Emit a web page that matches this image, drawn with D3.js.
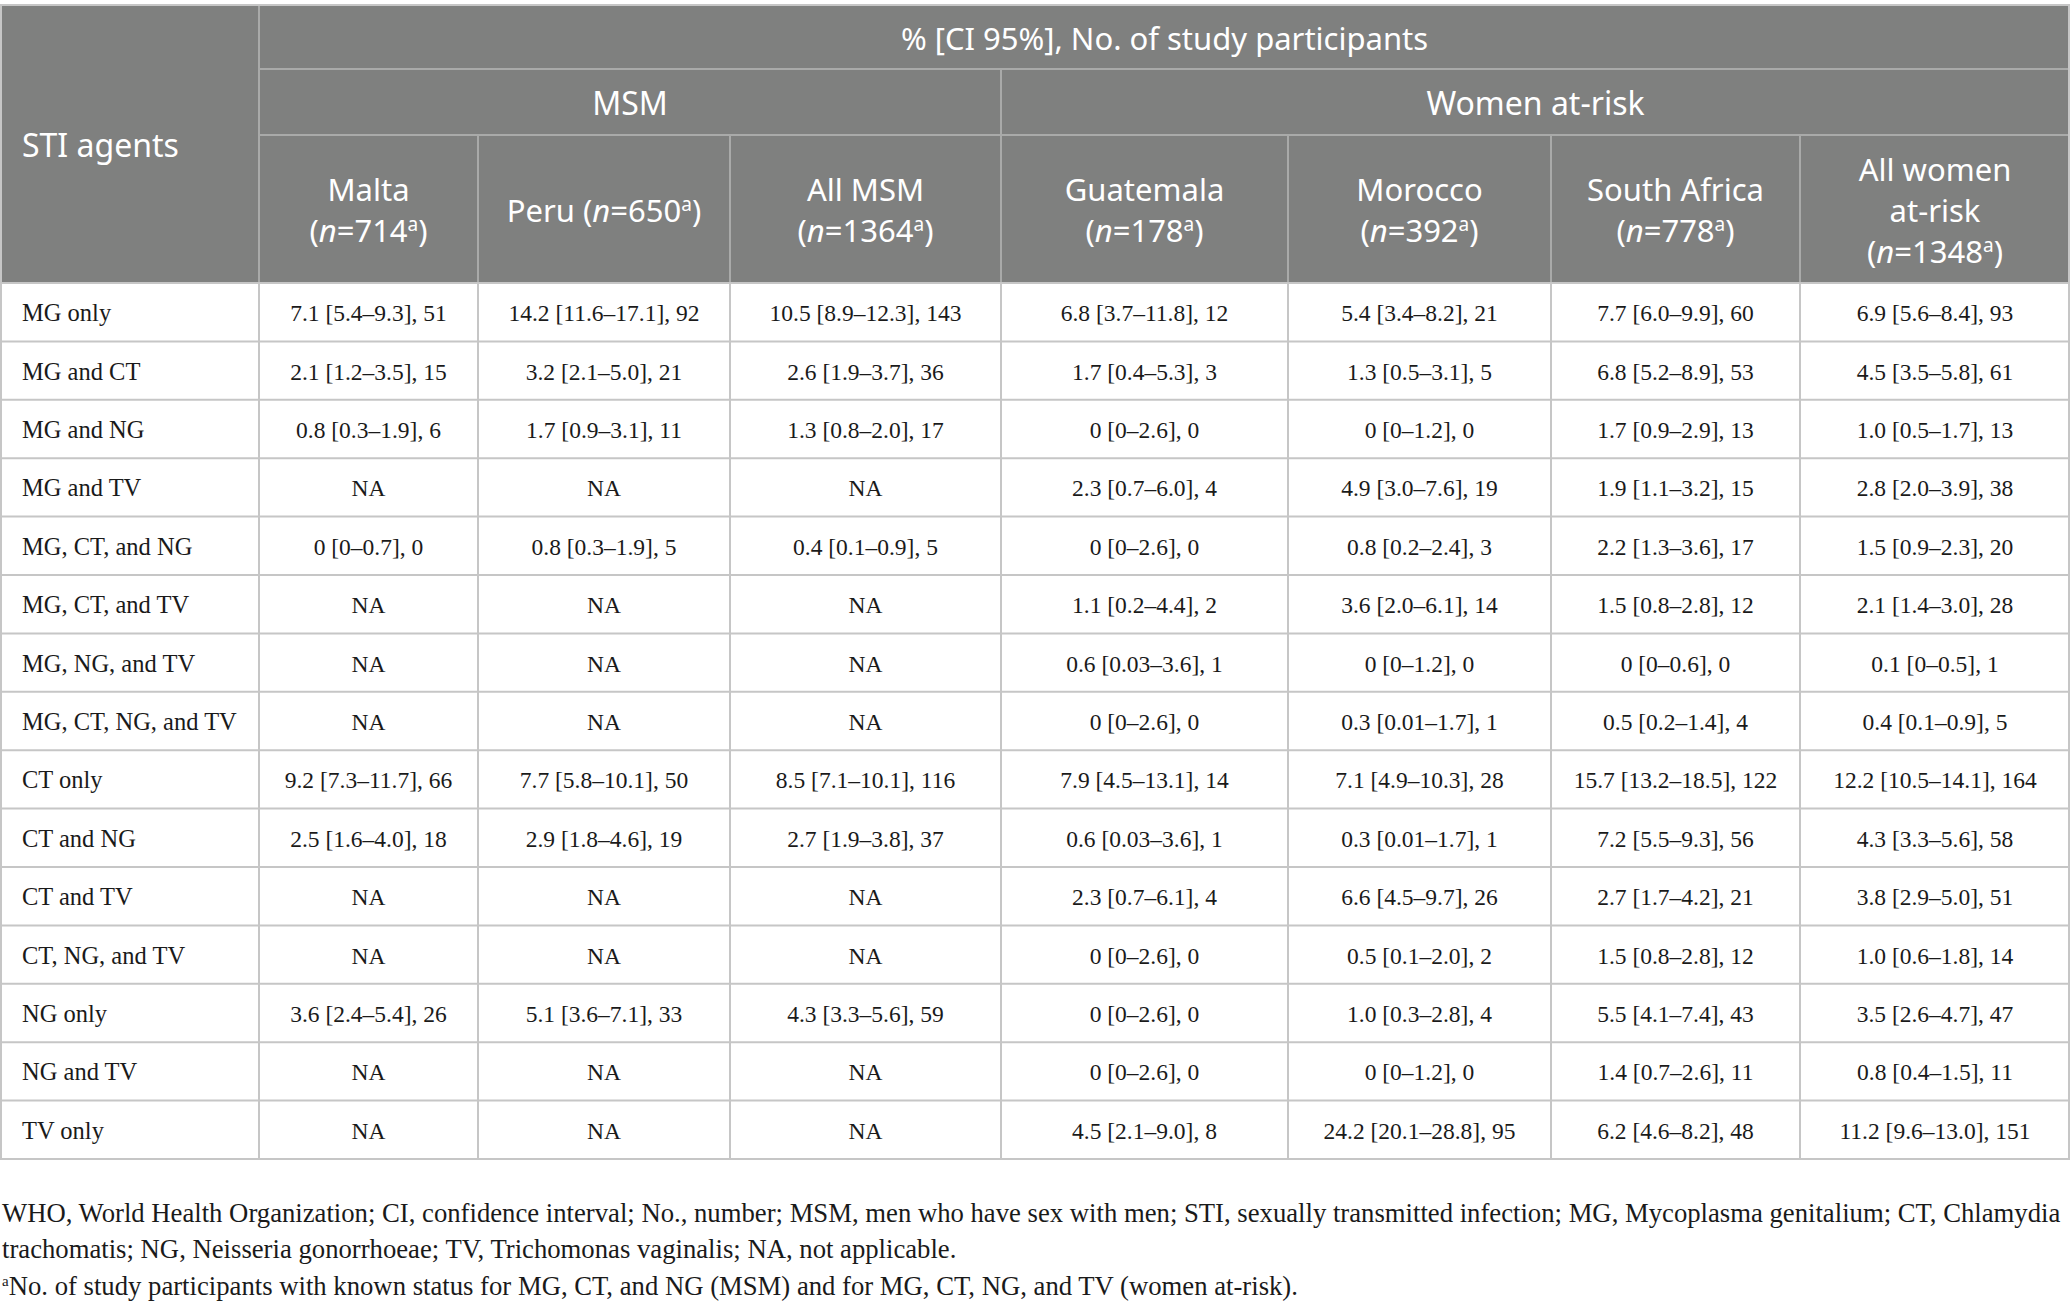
<!DOCTYPE html>
<html>
<head>
<meta charset="utf-8">
<script src="https://cdn.jsdelivr.net/npm/d3@7"></script>
<style>
  body { margin: 0; background: #fff; }
  svg { display: block; }
</style>
</head>
<body>
<div id="table"></div>
<script>
const agents = ["MG only", "MG and CT", "MG and NG", "MG and TV", "MG, CT, and NG",
  "MG, CT, and TV", "MG, NG, and TV", "MG, CT, NG, and TV", "CT only", "CT and NG",
  "CT and TV", "CT, NG, and TV", "NG only", "NG and TV", "TV only"];

const groups = ["MSM", "Women at-risk"];
const countries = ["Malta", "Peru", "All MSM", "Guatemala", "Morocco", "South Africa", "All women at-risk"];
const countryGroup = ["MSM", "MSM", "MSM", "Women at-risk", "Women at-risk", "Women at-risk", "Women at-risk"];
const sampleSizes = [714, 650, 1364, 178, 392, 778, 1348];

const malta = ["7.1 [5.4–9.3], 51", "2.1 [1.2–3.5], 15", "0.8 [0.3–1.9], 6", "NA", "0 [0–0.7], 0",
  "NA", "NA", "NA", "9.2 [7.3–11.7], 66", "2.5 [1.6–4.0], 18", "NA", "NA", "3.6 [2.4–5.4], 26", "NA", "NA"];
const peru = ["14.2 [11.6–17.1], 92", "3.2 [2.1–5.0], 21", "1.7 [0.9–3.1], 11", "NA", "0.8 [0.3–1.9], 5",
  "NA", "NA", "NA", "7.7 [5.8–10.1], 50", "2.9 [1.8–4.6], 19", "NA", "NA", "5.1 [3.6–7.1], 33", "NA", "NA"];
const allMsm = ["10.5 [8.9–12.3], 143", "2.6 [1.9–3.7], 36", "1.3 [0.8–2.0], 17", "NA", "0.4 [0.1–0.9], 5",
  "NA", "NA", "NA", "8.5 [7.1–10.1], 116", "2.7 [1.9–3.8], 37", "NA", "NA", "4.3 [3.3–5.6], 59", "NA", "NA"];
const guatemala = ["6.8 [3.7–11.8], 12", "1.7 [0.4–5.3], 3", "0 [0–2.6], 0", "2.3 [0.7–6.0], 4", "0 [0–2.6], 0",
  "1.1 [0.2–4.4], 2", "0.6 [0.03–3.6], 1", "0 [0–2.6], 0", "7.9 [4.5–13.1], 14", "0.6 [0.03–3.6], 1",
  "2.3 [0.7–6.1], 4", "0 [0–2.6], 0", "0 [0–2.6], 0", "0 [0–2.6], 0", "4.5 [2.1–9.0], 8"];
const morocco = ["5.4 [3.4–8.2], 21", "1.3 [0.5–3.1], 5", "0 [0–1.2], 0", "4.9 [3.0–7.6], 19", "0.8 [0.2–2.4], 3",
  "3.6 [2.0–6.1], 14", "0 [0–1.2], 0", "0.3 [0.01–1.7], 1", "7.1 [4.9–10.3], 28", "0.3 [0.01–1.7], 1",
  "6.6 [4.5–9.7], 26", "0.5 [0.1–2.0], 2", "1.0 [0.3–2.8], 4", "0 [0–1.2], 0", "24.2 [20.1–28.8], 95"];
const southAfrica = ["7.7 [6.0–9.9], 60", "6.8 [5.2–8.9], 53", "1.7 [0.9–2.9], 13", "1.9 [1.1–3.2], 15",
  "2.2 [1.3–3.6], 17", "1.5 [0.8–2.8], 12", "0 [0–0.6], 0", "0.5 [0.2–1.4], 4", "15.7 [13.2–18.5], 122",
  "7.2 [5.5–9.3], 56", "2.7 [1.7–4.2], 21", "1.5 [0.8–2.8], 12", "5.5 [4.1–7.4], 43", "1.4 [0.7–2.6], 11",
  "6.2 [4.6–8.2], 48"];
const allWomen = ["6.9 [5.6–8.4], 93", "4.5 [3.5–5.8], 61", "1.0 [0.5–1.7], 13", "2.8 [2.0–3.9], 38",
  "1.5 [0.9–2.3], 20", "2.1 [1.4–3.0], 28", "0.1 [0–0.5], 1", "0.4 [0.1–0.9], 5", "12.2 [10.5–14.1], 164",
  "4.3 [3.3–5.6], 58", "3.8 [2.9–5.0], 51", "1.0 [0.6–1.8], 14", "3.5 [2.6–4.7], 47", "0.8 [0.4–1.5], 11",
  "11.2 [9.6–13.0], 151"];

const cells = [malta, peru, allMsm, guatemala, morocco, southAfrica, allWomen];

const topHeader = "% [CI 95%], No. of study participants";
const firstHeader = "STI agents";
const footnotes = [
  "WHO, World Health Organization; CI, confidence interval; No., number; MSM, men who have sex with men; STI, sexually transmitted infection; MG, Mycoplasma genitalium; CT, Chlamydia",
  "trachomatis; NG, Neisseria gonorrhoeae; TV, Trichomonas vaginalis; NA, not applicable."
];
const footnoteA = "No. of study participants with known status for MG, CT, and NG (MSM) and for MG, CT, NG, and TV (women at-risk).";

// ---- layout ----
const width = 2070, height = 1311;
const colWidths = [259, 219, 252, 271, 287, 263, 249, 270];
const edges = [0].concat(Array.from(d3.cumsum(colWidths)));
const tableTop = 5, h1 = 69, h2 = 135, headBottom = 283, tableBottom = 1159;

const headBg = "#7f807f", headLine = "#a9aaa9", bodyLine = "#c6c6c6";
const sans = "'Noto Sans', 'Open Sans', sans-serif";
const serif = "'Liberation Serif', 'DejaVu Serif', serif";

const xCol = i => edges[i + 1];           // left edge of data column i
const wCol = i => colWidths[i + 1];

const yScale = d3.scaleBand()
  .domain(agents)
  .range([headBottom, tableBottom]);

const svg = d3.select("#table")
  .append("svg")
  .attr("width", width)
  .attr("height", height);

svg.append("rect").attr("width", width).attr("height", height).attr("fill", "#fff");

// header background
svg.append("rect")
  .attr("x", 0).attr("y", tableTop)
  .attr("width", width).attr("height", headBottom - tableTop)
  .attr("fill", headBg);

// header lines
const gLines = svg.append("g").attr("stroke-width", 2).attr("fill", "none");

gLines.append("line").attr("x1", edges[1]).attr("x2", width).attr("y1", h1).attr("y2", h1).attr("stroke", headLine);
gLines.append("line").attr("x1", edges[1]).attr("x2", width).attr("y1", h2).attr("y2", h2).attr("stroke", headLine);
gLines.append("line").attr("x1", edges[1]).attr("x2", edges[1]).attr("y1", tableTop).attr("y2", headBottom).attr("stroke", headLine);

const groupStart = groups.map(g => countryGroup.indexOf(g));
gLines.append("line")
  .attr("x1", xCol(groupStart[1])).attr("x2", xCol(groupStart[1]))
  .attr("y1", h1).attr("y2", headBottom).attr("stroke", headLine);

gLines.selectAll(".sub-v")
  .data(countries.slice(1).map((c, i) => i + 1).filter(i => !groupStart.includes(i)))
  .enter()
  .append("line")
  .attr("x1", i => xCol(i)).attr("x2", i => xCol(i))
  .attr("y1", h2).attr("y2", headBottom)
  .attr("stroke", headLine);

// body lines
gLines.selectAll(".row-h")
  .data(agents)
  .enter()
  .append("line")
  .attr("x1", 0).attr("x2", width)
  .attr("y1", d => yScale(d) + yScale.bandwidth())
  .attr("y2", d => yScale(d) + yScale.bandwidth())
  .attr("stroke", bodyLine);

gLines.selectAll(".col-v")
  .data(edges)
  .enter()
  .append("line")
  .attr("x1", (d, i) => i == 0 ? 1 : (i == edges.length - 1 ? width - 1 : d))
  .attr("x2", (d, i) => i == 0 ? 1 : (i == edges.length - 1 ? width - 1 : d))
  .attr("y1", (d, i) => (i == 0 || i == edges.length - 1) ? tableTop : headBottom)
  .attr("y2", tableBottom)
  .attr("stroke", bodyLine);

gLines.append("line").attr("x1", 0).attr("x2", width).attr("y1", tableTop).attr("y2", tableTop).attr("stroke", bodyLine);
gLines.append("line").attr("x1", 0).attr("x2", width).attr("y1", headBottom).attr("y2", headBottom).attr("stroke", bodyLine);

// header text
const gHead = svg.append("g")
  .attr("font-family", sans)
  .attr("font-size", 31)
  .attr("fill", "#fff");

gHead.append("text")
  .attr("x", 22).attr("y", (tableTop + headBottom) / 2 + 12.5)
  .attr("font-size", 32)
  .text(firstHeader);

gHead.append("text")
  .attr("x", (edges[1] + width) / 2).attr("y", (tableTop + h1) / 2 + 12.5)
  .attr("text-anchor", "middle")
  .text(topHeader);

gHead.selectAll(".group-label")
  .data(groups)
  .enter()
  .append("text")
  .attr("x", (g, i) => {
    const s = groupStart[i], e = i + 1 < groups.length ? groupStart[i + 1] : countries.length;
    return (xCol(s) + xCol(e - 1) + wCol(e - 1)) / 2;
  })
  .attr("y", (h1 + h2) / 2 + 12.5)
  .attr("text-anchor", "middle")
  .attr("font-size", 32)
  .text(g => g);

// country headers, split into lines like the original
function headLines(name, i) {
  if (name == "Peru") return [[name + " ", true]];
  if (name == "All women at-risk") return [["All women", false], ["at-risk", false], ["", true]];
  return [[name, false], ["", true]];
}

const lineGap = 41;
countries.forEach((c, i) => {
  const lines = headLines(c, i);
  const cx = xCol(i) + wCol(i) / 2;
  const cy = (h2 + headBottom) / 2 + 12.5 - (lines.length - 1) * lineGap / 2;
  lines.forEach(([txt, withN], k) => {
    const t = gHead.append("text")
      .attr("x", cx).attr("y", cy + k * lineGap)
      .attr("text-anchor", "middle");
    if (txt) t.append("tspan").text(txt);
    if (withN) {
      t.append("tspan").text("(");
      t.append("tspan").attr("font-style", "italic").text("n");
      t.append("tspan").text("=" + sampleSizes[i]);
      t.append("tspan").attr("font-size", 19).attr("dy", -11).text("a");
      t.append("tspan").attr("dy", 11).text(")");
    }
  });
});

// body text
const gBody = svg.append("g")
  .attr("font-family", serif)
  .attr("font-size", 23.5)
  .attr("fill", "#1a1a1a");

gBody.selectAll(".agent")
  .data(agents)
  .enter()
  .append("text")
  .attr("x", 22)
  .attr("y", d => yScale(d) + yScale.bandwidth() / 2 + 9)
  .attr("font-size", 24.5)
  .text(d => d);

cells.forEach((col, i) => {
  gBody.selectAll(".c" + i)
    .data(col)
    .enter()
    .append("text")
    .attr("class", "c" + i)
    .attr("x", xCol(i) + wCol(i) / 2)
    .attr("y", (d, r) => yScale(agents[r]) + yScale.bandwidth() / 2 + 9)
    .attr("text-anchor", "middle")
    .text(d => d);
});

// footnotes - first line runs to the right edge of the table
const gFoot = svg.append("g")
  .attr("font-family", serif)
  .attr("font-size", 25)
  .attr("fill", "#1a1a1a");

const footY = [1222, 1258];
footnotes.forEach((f, i) => {
  gFoot.append("text").attr("class", "foot").attr("x", 2).attr("y", footY[i]).text(f);
});

const fa = gFoot.append("text").attr("x", 2).attr("y", 1295);
fa.append("tspan").attr("font-size", 15).attr("dy", -9).text("a");
fa.append("tspan").attr("dy", 9).text(footnoteA);

const firstLen = gFoot.select(".foot").node().getComputedTextLength();
if (firstLen > 0) gFoot.attr("font-size", 25 * 2060 / firstLen);
</script>
</body>
</html>
